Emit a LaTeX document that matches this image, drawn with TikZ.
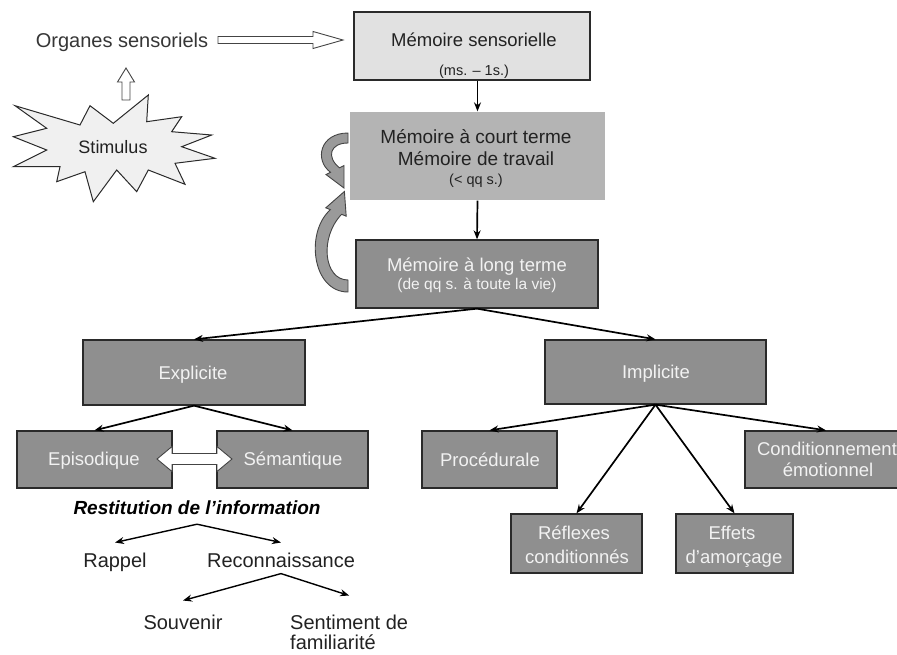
\documentclass[tikz,border=0pt]{standalone}
\usepackage{fontspec}
\setmainfont{Liberation Sans}
\usetikzlibrary{arrows.meta,calc}
\definecolor{sensfill}{HTML}{E1E1E1}
\definecolor{shortfill}{HTML}{B4B4B4}
\definecolor{darkfill}{HTML}{8F8F8F}
\definecolor{boxline}{HTML}{2A2A2A}
\definecolor{labwhite}{HTML}{F2F2F2}
\definecolor{inkgray}{HTML}{222222}
\definecolor{hollowline}{HTML}{444444}
\definecolor{curvefill}{HTML}{9A9A9A}
\definecolor{starfill}{HTML}{F0F0F0}
\begin{document}
\begin{tikzpicture}[x=1pt,y=-1pt,
  arr/.style={-{Stealth[length=9pt,width=7pt]}, line width=1.7pt, black},
  box/.style={rectangle, inner sep=0pt, line width=1.3pt},
  dbox/.style={box, fill=darkfill, draw=boxline},
  lab/.style={inner sep=0pt, anchor=base, text=inkgray, font=\fontsize{18.5}{20}\selectfont},
  wlab/.style={lab, text=labwhite},
  small/.style={font=\fontsize{14.5}{16}\selectfont},
  plain/.style={lab, font=\fontsize{20}{22}\selectfont},
  hollow/.style={draw=hollowline, fill=white, line width=0.9pt, line join=miter},
  curved/.style={draw=hollowline, fill=curvefill, line width=0.9pt, line join=miter},
]
\useasboundingbox (0,0) rectangle (897,654);

% ---- sensory input ----
\node[plain, text=hollowline!80!black] (org) at (122,47.2) {Organes sensoriels};

\draw[draw=boxline, fill=starfill, line width=1pt, line join=miter]
  (15,105.7) -- (80,125) -- (90,105.7) -- (113.3,123.3) -- (148.3,95)
  -- (146.7,121.7) -- (181.7,116.7) -- (171.7,131.7) -- (211.7,135)
  -- (181.7,146.7) -- (215,158.3) -- (175,163.3) -- (185,184.3)
  -- (148.3,170) -- (136.7,191.7) -- (116.7,170) -- (93.3,201.7)
  -- (85,171.7) -- (56.7,181.7) -- (60,166.7) -- (13.3,166.7)
  -- (46.7,150) -- (13.3,136.7) -- (46.7,128.3) -- cycle;
\node[lab, font=\fontsize{18}{20}\selectfont] (stim) at (113,153.5) {Stimulus};

% hollow block arrows
\draw[hollow] (122,100) -- (122,82) -- (117.5,82) -- (126,68) -- (134.5,82)
  -- (130,82) -- (130,100) -- cycle;
\draw[hollow] (218,36.5) -- (313,36.5) -- (313,31.5) -- (343,40) -- (313,48.5)
  -- (313,43.5) -- (218,43.5) -- cycle;

% ---- memory stores ----
\node[box, fill=sensfill, draw=boxline, line width=1.1pt,
      minimum width=236pt, minimum height=68pt] (sens) at (472,46) {};
\node[lab] (sens1) at (474,46.7) {Mémoire sensorielle};
\node[lab, small] (sens2) at (474,75.5) {(ms. – 1s.)};

\node[box, fill=shortfill, minimum width=255pt, minimum height=88pt] (short) at (477.5,156) {};
\node[lab, font=\fontsize{19}{21}\selectfont] (short1) at (476,143.8) {Mémoire à court terme};
\node[lab, font=\fontsize{19}{21}\selectfont] (short2) at (476,165.8) {Mémoire de travail};
\node[lab, small] (short3) at (476,184) {(< qq s.)};

\node[dbox, minimum width=242pt, minimum height=68pt] (long) at (477,274) {};
\node[wlab] (long1) at (477,271.7) {Mémoire à long terme};
\node[wlab, font=\fontsize{15.5}{17}\selectfont] (long2) at (477,289.6) {(de qq s. à toute la vie)};

\draw[arr] (sens.south -| short.north) -- (short.north);
\draw[arr] (short.south) -- (long.north);

% rehearsal loops on the left of working memory
\draw[curved] (348,133) .. controls (320,133) and (314,160) .. (330.5,172.3)
  -- (326,174.5) -- (344,188) -- (344,165.5) -- (339.5,167.8)
  .. controls (326,157) and (330,143) .. (348,143) -- cycle;
\draw[curved] (348,292) .. controls (312,292) and (305,232) .. (330.4,209.7)
  -- (325.8,207.8) -- (344.4,191.5) -- (346.2,216.2) -- (341.6,214.3)
  .. controls (319,238) and (324,280) .. (348,280) -- cycle;

% ---- long-term memory subsystems ----
\node[dbox, minimum width=222pt, minimum height=65pt] (expl) at (194,372.5) {};
\node[wlab] (expll) at (193,379.7) {Explicite};
\node[dbox, minimum width=221pt, minimum height=64pt] (impl) at (655.5,372) {};
\node[wlab] (impll) at (656,378.7) {Implicite};

\draw[arr] (long.south) -- (expl.north);
\draw[arr] (long.south) -- (impl.north);

\node[dbox, minimum width=155pt, minimum height=57pt] (epis) at (94.5,459.5) {};
\node[wlab] (episl) at (94,465.7) {Episodique};
\node[dbox, minimum width=151pt, minimum height=57pt] (sema) at (292.5,459.5) {};
\node[wlab] (semal) at (293,465.7) {Sémantique};

\draw[arr] (expl.south) -- (epis.north);
\draw[arr] (expl.south) -- (sema.north);

\draw[hollow] (157,459) -- (172,446.5) -- (172,453.5) -- (217,453.5) -- (217,446.5)
  -- (232,459) -- (217,471.5) -- (217,464.5) -- (172,464.5) -- (172,471.5) -- cycle;

\node[dbox, minimum width=135pt, minimum height=57pt] (proc) at (489.5,459.5) {};
\node[wlab] (procl) at (490,466.7) {Procédurale};
\node[dbox, minimum width=162pt, minimum height=57pt] (cond) at (826,459.5) {};
\node[wlab] (cond1) at (827,455.7) {Conditionnement};
\node[wlab] (cond2) at (828,476.7) {émotionnel};
\node[dbox, minimum width=131pt, minimum height=59pt] (refl) at (576.5,543.5) {};
\node[wlab] (refl1) at (574,539.7) {Réflexes};
\node[wlab] (refl2) at (577,563.7) {conditionnés};
\node[dbox, minimum width=117pt, minimum height=59pt] (effe) at (734.5,543.5) {};
\node[wlab] (effe1) at (732,539.7) {Effets};
\node[wlab] (effe2) at (734,563.7) {d'amorçage};

\draw[arr] (impl.south) -- (proc.north);
\draw[arr] (impl.south) -- (refl.north);
\draw[arr] (impl.south) -- (effe.north);
\draw[arr] (impl.south) -- (cond.north);

% ---- retrieval ----
\node[lab, text=black, font=\fontsize{19}{21}\selectfont\bfseries\itshape] (restit) at (197,514.8) {Restitution de l’information};
\node[plain] (rappel) at (115,567.2) {Rappel};
\node[plain] (recon) at (281,567.2) {Reconnaissance};
\node[plain] (souv) at (183,629.2) {Souvenir};
\node[plain, anchor=base west] (sent1) at (290,629.2) {Sentiment de};
\node[plain, anchor=base west] (sent2) at (290,649) {familiarité};

\draw[arr, line width=1.4pt] ([yshift=-9pt]restit.south) -- ([yshift=10pt]rappel.north);
\draw[arr, line width=1.4pt] ([yshift=-9pt]restit.south) -- ([yshift=10pt]recon.north);
\draw[arr, line width=1.4pt] ([yshift=-6pt]recon.south) -- ([yshift=14pt]souv.north);
\draw[arr, line width=1.4pt] ([yshift=-6pt]recon.south) -- ([yshift=19pt]sent1.north);
\end{tikzpicture}
\end{document}
